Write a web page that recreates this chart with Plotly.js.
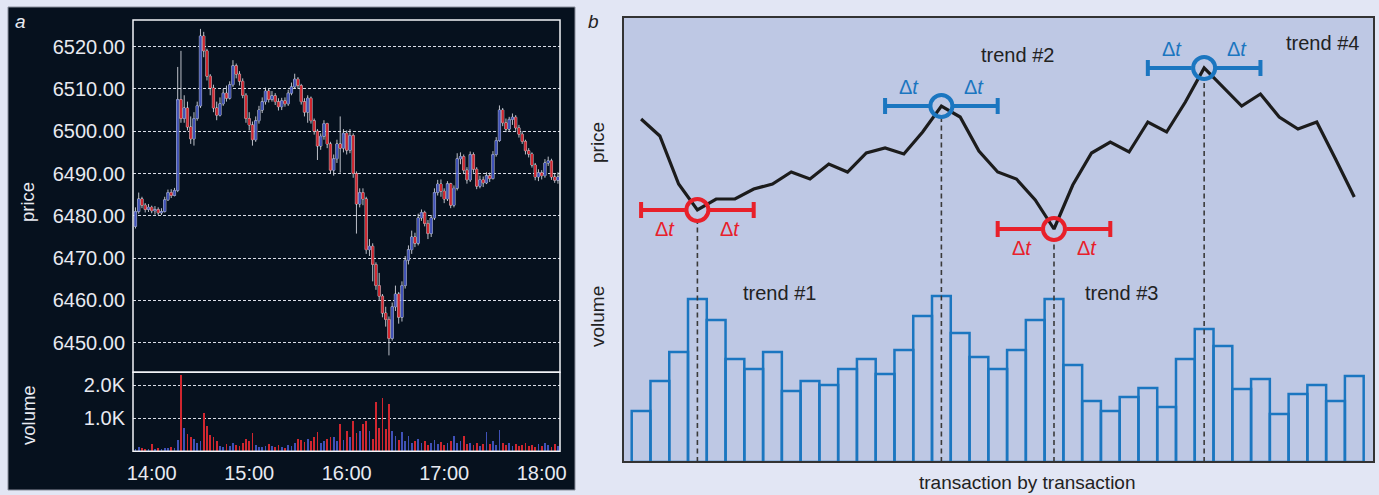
<!DOCTYPE html>
<html>
<head>
<meta charset="utf-8">
<script src="https://cdn.plot.ly/plotly-3.0.1.min.js"></script>
<style>
  html, body { margin: 0; padding: 0; background: #e2e6f4; }
  #chart { width: 1379px; height: 495px; }
</style>
</head>
<body>
<div id="chart"></div>
<script>
// ---------- Panel a: intraday 2-minute candles with volume ----------
const sessionDate = '2018-08-10';
const firstBarMinute = 13 * 60 + 50;   // first bar at 13:50
const barMinutes = 2;
const firstOpen = 6477.5;

const closes = [
  6481.0, 6484.0, 6482.5, 6481.5, 6482.0, 6481.2, 6481.5, 6480.7, 6481.0, 6483.8,
  6485.5, 6484.8, 6486.0, 6507.5, 6503.0, 6505.5, 6501.0, 6498.2, 6503.0, 6506.0,
  6522.5, 6519.0, 6513.0, 6510.2, 6505.5, 6503.8, 6506.5, 6509.0, 6507.8, 6511.0,
  6515.5, 6513.5, 6511.8, 6508.5, 6503.0, 6501.5, 6498.0, 6502.5, 6505.0, 6507.0,
  6509.5, 6507.5, 6508.4, 6507.0, 6505.8, 6507.2, 6506.5, 6509.0, 6510.5, 6512.3,
  6510.8, 6507.0, 6504.5, 6507.8, 6502.5, 6500.0, 6496.5, 6498.8, 6501.8, 6497.0,
  6490.8, 6493.5, 6497.0, 6496.0, 6499.5, 6495.5, 6499.0, 6490.0, 6482.8, 6485.5,
  6484.0, 6472.0, 6472.8, 6468.5, 6463.5, 6461.0, 6457.0, 6455.5, 6451.0, 6458.5,
  6461.5, 6456.0, 6463.5, 6469.5, 6472.0, 6475.0, 6473.5, 6479.5, 6480.8, 6478.2,
  6475.8, 6479.5, 6485.5, 6487.5, 6485.8, 6484.0, 6487.6, 6482.5, 6486.5, 6493.5,
  6494.0, 6490.8, 6488.5, 6494.5, 6491.0, 6487.0, 6488.5, 6487.8, 6489.5, 6488.8,
  6494.5, 6497.8, 6505.0, 6502.0, 6500.5, 6502.8, 6503.3, 6500.8, 6499.3, 6497.6,
  6495.4, 6494.6, 6492.0, 6489.2, 6490.2, 6489.5, 6492.5, 6493.0, 6489.2, 6488.4,
  6489.2
];
const highs = [
  6482.0, 6485.5, 6484.5, 6483.0, 6482.8, 6482.4, 6482.3, 6482.0, 6481.8, 6484.5,
  6486.2, 6486.3, 6486.6, 6515.2, 6519.0, 6508.5, 6507.0, 6503.5, 6504.5, 6507.0,
  6524.2, 6523.5, 6519.5, 6513.5, 6511.0, 6507.0, 6508.0, 6510.0, 6510.8, 6511.8,
  6516.8, 6516.0, 6514.2, 6512.5, 6509.0, 6504.5, 6502.3, 6503.5, 6506.0, 6508.0,
  6510.3, 6510.0, 6509.5, 6509.0, 6507.8, 6507.9, 6508.0, 6509.8, 6511.5, 6513.6,
  6512.8, 6511.2, 6507.8, 6508.5, 6508.2, 6503.0, 6500.5, 6499.5, 6502.6, 6502.0,
  6497.5, 6494.5, 6498.0, 6503.5, 6500.5, 6500.2, 6500.5, 6499.5, 6490.5, 6486.5,
  6486.5, 6484.5, 6474.5, 6473.5, 6469.0, 6466.5, 6461.5, 6458.5, 6456.2, 6459.5,
  6463.5, 6462.0, 6464.5, 6470.5, 6473.0, 6476.5, 6476.0, 6480.5, 6481.5, 6481.2,
  6479.0, 6480.2, 6486.5, 6488.5, 6488.6, 6486.5, 6488.2, 6487.8, 6487.2, 6494.8,
  6495.0, 6494.5, 6491.5, 6495.2, 6495.0, 6491.5, 6489.5, 6489.3, 6490.3, 6490.2,
  6495.3, 6498.6, 6506.1, 6505.5, 6503.0, 6503.4, 6504.2, 6503.8, 6501.5, 6500.0,
  6498.0, 6496.0, 6495.0, 6492.5, 6491.0, 6490.8, 6493.4, 6494.0, 6493.5, 6490.0,
  6490.3
];
const lows = [
  6477.0, 6480.5, 6481.8, 6480.8, 6480.9, 6480.6, 6480.3, 6480.2, 6480.2, 6480.8,
  6483.5, 6484.2, 6484.6, 6485.6, 6502.0, 6502.0, 6500.2, 6497.0, 6496.6, 6502.5,
  6505.5, 6517.5, 6512.0, 6508.5, 6504.5, 6502.6, 6503.5, 6506.0, 6507.0, 6507.5,
  6510.5, 6512.5, 6510.8, 6507.8, 6502.0, 6500.2, 6496.6, 6497.5, 6501.8, 6504.3,
  6506.3, 6506.8, 6507.0, 6506.2, 6504.9, 6505.0, 6505.8, 6506.0, 6508.5, 6510.0,
  6510.0, 6506.3, 6503.5, 6502.0, 6501.8, 6499.2, 6493.2, 6495.6, 6498.0, 6496.0,
  6490.0, 6489.5, 6492.5, 6490.2, 6495.0, 6494.5, 6494.8, 6489.0, 6475.8, 6482.0,
  6482.5, 6471.0, 6470.5, 6464.5, 6462.5, 6460.0, 6456.0, 6453.8, 6447.0, 6450.5,
  6457.5, 6454.5, 6455.0, 6462.8, 6468.5, 6471.0, 6472.6, 6473.0, 6478.8, 6477.5,
  6474.5, 6475.0, 6479.0, 6484.8, 6484.5, 6483.0, 6483.5, 6481.8, 6482.0, 6486.0,
  6492.2, 6490.0, 6487.6, 6488.0, 6490.2, 6486.3, 6486.5, 6486.8, 6487.5, 6488.0,
  6488.6, 6494.0, 6497.5, 6501.2, 6499.8, 6500.0, 6501.5, 6500.1, 6498.5, 6497.0,
  6494.5, 6493.8, 6491.4, 6488.4, 6488.2, 6488.6, 6489.0, 6491.8, 6488.5, 6487.8,
  6487.6
];
const volumes = [
   80,  120,   90,   60,   70,  230,   60,   90,   70,  110,
  100,  140,   90,  350, 2300,  710,  520,  430,  380,  260,
  300, 1170,  760,  480,  420,  300,  160,  120,  220,  170,
  260,  200,  150,  240,  370,  300,  560,  200,  140,  130,
  170,  220,  150,  120,  180,  140,  110,  200,  160,  250,
  370,  330,  280,  380,  300,  420,  570,  260,  300,  380,
  420,  430,  300,  820,  350,  620,  420,  920,  560,  620,
  820,  920,  600,  380, 1480,  720, 1630,  680, 1430,  620,
  470,  330,  570,  300,  470,  260,  320,  370,  240,  300,
  200,  260,  330,  210,  280,  190,  240,  300,  470,  260,
  320,  450,  220,  260,  200,  240,  170,  230,  570,  220,
  300,  180,  650,  260,  200,  240,  170,  220,  150,  180,
  240,  160,  200,  140,  210,  170,  250,  180,  140,  220,
  160
];
const priceTicks = [6450, 6460, 6470, 6480, 6490, 6500, 6510, 6520];
const volumeTickVals = [1000, 2000];
const volumeTickText = ['1.0K', '2.0K'];
const timeTickLabels = ['14:00', '15:00', '16:00', '17:00', '18:00'];
const priceRange = [6443.0, 6526.3];
const volumeRange = [0, 2394];
const timeRange = ['13:48:29', '18:11:16'];

// ---------- Panel b: schematic transaction-by-transaction series ----------
const schematicPrice = [
  343, 326, 278, 252, 263, 263, 273, 278, 290, 283,
  298, 290, 309, 314, 308, 330, 356, 345, 311, 290,
  283, 262, 233, 277, 309, 320, 310, 340, 330, 360,
  394, 375, 356, 368, 345, 333, 340, 303, 265
];
const schematicVolume = [
   51,  81, 110, 163, 142, 103,  93, 110,  71,  81,
   77,  93, 103,  88, 112, 146, 166, 129, 105,  93,
  112, 142, 163,  97,  61,  51,  65,  74,  55, 103,
  133, 116,  73,  83,  48,  68,  77,  61,  86
];
const turnIndex = [4, 17, 23, 31];            // transaction numbers of the turning points
const turnKind = ['low', 'high', 'low', 'high'];
const deltaT = 3;                              // window half-width, in transactions
const trendLabels = ['trend #1', 'trend #2', 'trend #3', 'trend #4'];

// ---------- geometry and style ----------
const W = 1379, H = 495;
const FONT = 'Liberation Sans, Arial, sans-serif';
const A = { l: 133, r: 560, t: 20, mid: 372.3, b: 451.3 };
const B = { l: 623, r: 1374, t: 17, b: 462 };
const UP = '#3f51b8', DOWN = '#d0262f', WICK = 'rgba(232,234,242,0.9)';
const LIGHT = '#e8eaf1';
const RED = '#e8202a', BLUE = '#1b76c0', INK = '#222222';
const B_BG = '#bec8e4';

const px = x => x / W;
const py = y => 1 - y / H;

function stamp(totalMin) {
  const h = Math.floor(totalMin / 60), m = totalMin % 60;
  return sessionDate + ' ' + String(h).padStart(2, '0') + ':' + String(m).padStart(2, '0');
}
const times = closes.map((_, i) => stamp(firstBarMinute + i * barMinutes));
const opens = closes.map((c, i) => (i === 0 ? firstOpen : closes[i - 1]));
const volColors = closes.map((c, i) => (c >= opens[i] ? UP : DOWN));

const txIndex = schematicPrice.map((_, i) => i + 1);

const traces = [];

// wicks (white), drawn first
traces.push({
  type: 'candlestick', x: times, open: opens, high: highs, low: lows, close: closes,
  xaxis: 'x', yaxis: 'y', hoverinfo: 'skip', showlegend: false,
  increasing: { line: { color: WICK, width: 0.9 }, fillcolor: 'rgba(0,0,0,0)' },
  decreasing: { line: { color: WICK, width: 0.9 }, fillcolor: 'rgba(0,0,0,0)' }
});
// coloured bodies on top
traces.push({
  type: 'candlestick', x: times, open: opens, high: highs, low: lows, close: closes,
  xaxis: 'x', yaxis: 'y', hoverinfo: 'skip', showlegend: false,
  increasing: { line: { color: UP, width: 0 }, fillcolor: UP },
  decreasing: { line: { color: DOWN, width: 0 }, fillcolor: DOWN }
});
// volume
traces.push({
  type: 'bar', x: times, y: volumes, xaxis: 'x2', yaxis: 'y2',
  width: barMinutes * 60000 * 0.5,
  marker: { color: volColors, line: { width: 0 } },
  hoverinfo: 'skip', showlegend: false
});

// panel b: volume bars (outlined)
traces.push({
  type: 'bar', x: txIndex, y: schematicVolume, xaxis: 'x3', yaxis: 'y3', width: 1,
  marker: { color: 'rgba(0,0,0,0)', line: { color: BLUE, width: 2.5 } },
  hoverinfo: 'skip', showlegend: false
});

// dashed drop lines from each turning point
const dropX = [], dropY = [];
turnIndex.forEach(i => { dropX.push(i, i, null); dropY.push(0, schematicPrice[i - 1], null); });
traces.push({
  type: 'scatter', mode: 'lines', x: dropX, y: dropY, xaxis: 'x3', yaxis: 'y4',
  line: { color: '#3a3a3a', width: 1.6, dash: '5px,3.5px' },
  hoverinfo: 'skip', showlegend: false
});

// Δt windows with masked centres, one trace per colour
['low', 'high'].forEach(kind => {
  const idx = turnIndex.filter((_, k) => turnKind[k] === kind);
  const col = kind === 'low' ? RED : BLUE;
  traces.push({
    type: 'scatter', mode: 'markers', x: idx, y: idx.map(i => schematicPrice[i - 1]),
    xaxis: 'x3', yaxis: 'y4',
    marker: { color: B_BG, size: 25, line: { width: 0 } },
    error_x: { type: 'constant', value: deltaT, color: col, thickness: 4, width: 8 },
    hoverinfo: 'skip', showlegend: false
  });
});

// price path
traces.push({
  type: 'scatter', mode: 'lines', x: txIndex, y: schematicPrice, xaxis: 'x3', yaxis: 'y4',
  line: { color: '#1c1c1c', width: 3.2 }, hoverinfo: 'skip', showlegend: false
});

// rings around turning points
traces.push({
  type: 'scatter', mode: 'markers', x: turnIndex, y: turnIndex.map(i => schematicPrice[i - 1]),
  xaxis: 'x3', yaxis: 'y4',
  marker: { symbol: 'circle-open', size: 22, color: turnKind.map(k => (k === 'low' ? RED : BLUE)), line: { width: 4 } },
  hoverinfo: 'skip', showlegend: false
});

// ---------- annotations ----------
const ann = [];
function paperText(text, x, y, opts) {
  ann.push(Object.assign({
    text, x: px(x), y: py(y), xref: 'paper', yref: 'paper', showarrow: false,
    xanchor: 'center', yanchor: 'middle', font: { family: FONT, size: 19, color: INK }
  }, opts || {}));
}
paperText('<i>a</i>', 20, 22, { font: { family: FONT, size: 19, color: LIGHT } });
paperText('price', 28, 202, { textangle: -90, font: { family: FONT, size: 18.5, color: LIGHT } });
paperText('volume', 28, 415, { textangle: -90, font: { family: FONT, size: 18.5, color: LIGHT } });
paperText('<i>b</i>', 593, 21, { font: { family: FONT, size: 19, color: INK } });
paperText('price', 597, 143, { textangle: -90 });
paperText('volume', 597, 317, { textangle: -90 });
paperText('transaction by transaction', 1027, 482.5);

const trendPos = [[8.40, 169], [21.03, 407], [26.62, 169], [37.28, 419]];
trendLabels.forEach((t, k) => ann.push({
  text: t, x: trendPos[k][0], y: trendPos[k][1], xref: 'x3', yref: 'y3', showarrow: false,
  xanchor: 'center', yanchor: 'middle', font: { family: FONT, size: 20, color: INK }
}));

turnIndex.forEach((i, k) => {
  const low = turnKind[k] === 'low';
  [-1.72, 1.74].forEach(dx => ann.push({
    text: '\u0394<i>t</i>', x: i + dx, y: schematicPrice[i - 1], xref: 'x3', yref: 'y4',
    yshift: low ? -19 : 19, showarrow: false, xanchor: 'center', yanchor: 'middle',
    font: { family: FONT, size: 20, color: low ? RED : BLUE }
  }));
});

// ---------- shapes ----------
const shapes = [
  { type: 'rect', xref: 'paper', yref: 'paper', x0: px(8), x1: px(575), y0: py(490), y1: py(7),
    fillcolor: '#06111e', line: { color: '#8a8f9c', width: 1 }, layer: 'below' },
  { type: 'rect', xref: 'x domain', yref: 'y domain', x0: 0, x1: 1, y0: 0, y1: 1,
    line: { color: '#f2f3f7', width: 1.5 }, layer: 'above' },
  { type: 'rect', xref: 'x2 domain', yref: 'y2 domain', x0: 0, x1: 1, y0: 0, y1: 1,
    line: { color: '#f2f3f7', width: 1.5 }, layer: 'above' },
  { type: 'rect', xref: 'paper', yref: 'paper', x0: px(B.l), x1: px(B.r), y0: py(B.b), y1: py(B.t),
    fillcolor: B_BG, line: { width: 0 }, layer: 'below' },
  { type: 'rect', xref: 'x3 domain', yref: 'y3 domain', x0: 0, x1: 1, y0: 0, y1: 1,
    line: { color: '#333333', width: 2 }, layer: 'above' }
];

const tickFontA = { family: FONT, size: 20, color: LIGHT };
const gridA = { showgrid: true, gridcolor: '#d9dce6', gridwidth: 1, griddash: '3px,2px', zeroline: false };

const layout = {
  width: W, height: H, autosize: false,
  margin: { l: 0, r: 0, t: 0, b: 0 },
  paper_bgcolor: '#e2e6f4', plot_bgcolor: 'rgba(0,0,0,0)',
  showlegend: false, bargap: 0, boxgap: 0.02,
  xaxis: {
    domain: [px(A.l), px(A.r)], anchor: 'y', type: 'date',
    range: timeRange.map(t => sessionDate + ' ' + t),
    rangeslider: { visible: false }, showticklabels: false, showgrid: false, zeroline: false,
    showline: false, ticks: ''
  },
  yaxis: Object.assign({
    domain: [py(A.mid), py(A.t)], anchor: 'x', range: priceRange,
    tickvals: priceTicks, tickformat: '.2f', tickfont: tickFontA, ticks: '',
    ticklabelstandoff: 7, showline: false
  }, gridA),
  xaxis2: {
    domain: [px(A.l), px(A.r)], anchor: 'y2', matches: 'x', type: 'date',
    tickvals: timeTickLabels.map(t => sessionDate + ' ' + t), ticktext: timeTickLabels,
    tickfont: tickFontA, ticks: '', ticklabelstandoff: 8, showgrid: false, zeroline: false,
    showline: false
  },
  yaxis2: Object.assign({
    domain: [py(A.b), py(A.mid)], anchor: 'x2', range: volumeRange,
    tickvals: volumeTickVals, ticktext: volumeTickText, tickfont: tickFontA, ticks: '',
    ticklabelstandoff: 7, showline: false
  }, gridA),
  xaxis3: {
    domain: [px(B.l), px(B.r)], anchor: 'y3', range: [0.036, 40.05], visible: false
  },
  yaxis3: {
    domain: [py(B.b), py(B.t)], anchor: 'x3', range: [0, 445], visible: false
  },
  yaxis4: {
    overlaying: 'y3', anchor: 'x3', range: [0, 445], visible: false
  },
  shapes: shapes,
  annotations: ann
};

Plotly.newPlot('chart', traces, layout, { displayModeBar: false, staticPlot: true });
</script>
</body>
</html>
